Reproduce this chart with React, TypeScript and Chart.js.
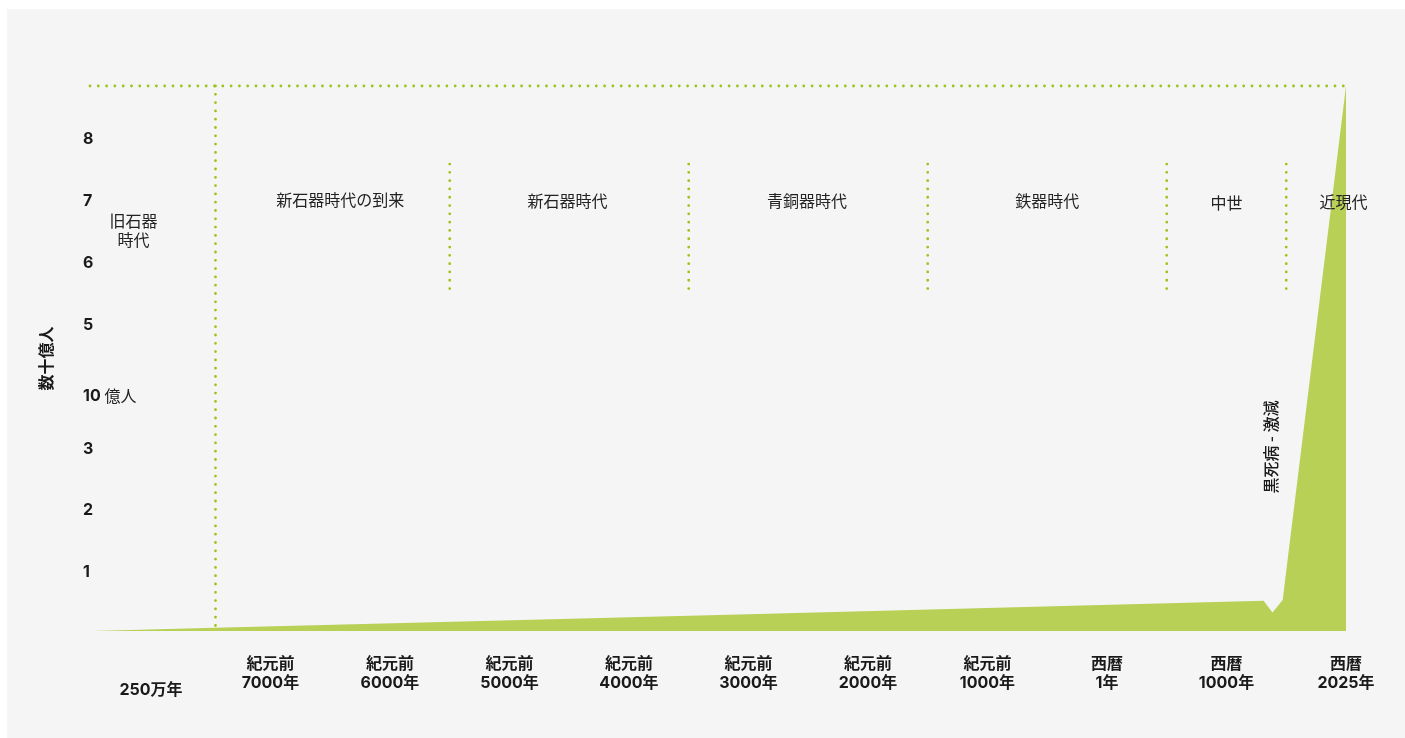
import React, { useEffect, useRef } from "react";
import { Chart, registerables } from "chart.js";

Chart.register(...registerables);

// ---- data ----
const xTickValues = [0, 1, 2, 3, 4, 5, 6, 7, 8, 9, 10];
const xTickLabels: (string | string[])[] = [
  "250万年",
  ["紀元前", "7000年"],
  ["紀元前", "6000年"],
  ["紀元前", "5000年"],
  ["紀元前", "4000年"],
  ["紀元前", "3000年"],
  ["紀元前", "2000年"],
  ["紀元前", "1000年"],
  ["西暦", "1年"],
  ["西暦", "1000年"],
  ["西暦", "2025年"],
];
const yTickValues = [1, 2, 3, 3.84, 5, 6, 7, 8];
const yTickLabels = ["1", "2", "3", "10", "5", "6", "7", "8"];
const yUnitNote = "億人";
const yUnitNoteValue = 3.84;
const yAxisTitle = "数十億人";

const popX = [-0.49, 0.54, 5, 9.31, 9.385, 9.47, 10];
const popY = [0, 0.053, 0.27, 0.49, 0.3, 0.5, 8.8];

const ceilingX = [-0.51, 10];
const ceilingY = [8.8, 8.8];

const eraBoundaryX = [0.54, 2.5, 4.5, 6.5, 8.5, 9.5];
const eraBoundaryTop = [8.8, 7.54, 7.54, 7.54, 7.54, 7.54];
const eraBoundaryBottom = [0.03, 5.42, 5.42, 5.42, 5.42, 5.42];

const eraNames = ["旧石器\n時代", "新石器時代の到来", "新石器時代", "青銅器時代", "鉄器時代", "中世", "近現代"];
const eraNameX = [-0.146, 1.585, 3.485, 5.49, 7.5, 9.0, 9.98];
const eraNameY = [6.46, 6.96, 6.94, 6.94, 6.94, 6.91, 6.93];

const eventLabel = "黒死病 - 激減";
const eventX = 9.37;
const eventY = 2.97;

// ---- styles ----
const FAMILY = "Inter, 'Noto Sans CJK JP', sans-serif";
const CJK = "'Noto Sans CJK JP', sans-serif";
const GREEN_FILL = "#b7d055";
const DOT_GREEN = "#9cc41a";
const TEXT = "#1a1a1a";

const textPlugin = {
  id: "textNotes",
  afterDatasetsDraw(chart: any) {
    const { ctx, scales } = chart;
    const xs = scales.x;
    const ys = scales.y;
    ctx.save();
    ctx.fillStyle = "#222";
    ctx.textAlign = "center";
    ctx.textBaseline = "middle";
    ctx.font = `16px ${CJK}`;
    eraNames.forEach((name, i) => {
      const lines = name.split("\n");
      const cx = xs.getPixelForValue(eraNameX[i]);
      const cy = ys.getPixelForValue(eraNameY[i]);
      const lh = 19;
      lines.forEach((ln, j) => {
        ctx.fillText(ln, cx, cy + (j - (lines.length - 1) / 2) * lh);
      });
    });
    // event label rotated
    ctx.save();
    ctx.translate(xs.getPixelForValue(eventX), ys.getPixelForValue(eventY));
    ctx.rotate(-Math.PI / 2);
    ctx.fillStyle = TEXT;
    ctx.font = `500 16px ${CJK}`;
    ctx.fillText(eventLabel, 0, 0);
    ctx.restore();
    // unit note after "10"
    ctx.font = `bold 16px ${FAMILY}`;
    const w = ctx.measureText("10 ").width;
    ctx.font = `16px ${CJK}`;
    ctx.textAlign = "left";
    ctx.fillStyle = "#222";
    ctx.fillText(yUnitNote, ys.right - 7 + w, ys.getPixelForValue(yUnitNoteValue) + 3);
    ctx.restore();
  },
};

export default function App() {
  const ref = useRef<HTMLCanvasElement | null>(null);
  useEffect(() => {
    if (!ref.current) return;
    const dotted = (data: { x: number; y: number }[]) => ({
      type: "line" as const,
      data,
      borderColor: DOT_GREEN,
      borderWidth: 2.8,
      borderDash: [0, 8.3],
      borderCapStyle: "round" as const,
      pointRadius: 0,
      fill: false,
      clip: false as any,
      tension: 0,
    });
    const datasets: any[] = [
      dotted(ceilingX.map((x, i) => ({ x, y: ceilingY[i] }))),
      ...eraBoundaryX.map((x, i) =>
        dotted([
          { x, y: eraBoundaryTop[i] },
          { x, y: eraBoundaryBottom[i] },
        ])
      ),
      {
        type: "line",
        data: popX.map((x, i) => ({ x, y: popY[i] })),
        backgroundColor: GREEN_FILL,
        borderColor: GREEN_FILL,
        borderWidth: 0,
        pointRadius: 0,
        fill: "origin",
        tension: 0,
      },
    ];
    const chart = new Chart(ref.current, {
      type: "line",
      data: { datasets },
      options: {
        animation: false,
        responsive: false,
        events: [],
        layout: { padding: { left: 0, top: 77, right: 59, bottom: 27 } },
        plugins: { legend: { display: false }, tooltip: { enabled: false } },
        scales: {
          x: {
            type: "linear",
            min: -0.51,
            max: 10,
            grid: { display: false, drawTicks: false },
            border: { display: false },
            afterBuildTicks: (scale: any) => {
              scale.ticks = xTickValues.map((v) => ({ value: v }));
            },
            afterFit: (scale: any) => {
              scale.height = 80;
            },
            ticks: {
              autoSkip: false,
              maxRotation: 0,
              minRotation: 0,
              padding: 23.5,
              color: TEXT,
              font: (ctx: any) => ({
                family: FAMILY,
                size: 16,
                weight: "bold",
                lineHeight: ctx.index === 0 ? "71px" : "19px",
              }),
              callback: (value: any) => {
                const i = xTickValues.indexOf(Number(value));
                return i >= 0 ? xTickLabels[i] : "";
              },
            },
          },
          y: {
            type: "linear",
            min: 0,
            max: 8.8,
            grid: { display: false, drawTicks: false },
            border: { display: false },
            afterBuildTicks: (scale: any) => {
              scale.ticks = yTickValues.map((v) => ({ value: v }));
            },
            afterFit: (scale: any) => {
              scale.width = 83;
            },
            title: {
              display: true,
              text: yAxisTitle,
              color: TEXT,
              font: { family: CJK, size: 16, weight: "bold" },
              padding: { top: 29, bottom: 0 },
            },
            ticks: {
              mirror: true,
              padding: -7,
              labelOffset: 3.5,
              color: TEXT,
              font: { family: FAMILY, size: 16, weight: "bold" },
              callback: (value: any) => {
                const i = yTickValues.indexOf(Number(value));
                return i >= 0 ? yTickLabels[i] : "";
              },
            },
          },
        },
      },
      plugins: [textPlugin],
    } as any);
    return () => chart.destroy();
  }, []);

  return (
    <div
      style={{
        position: "fixed",
        left: 7,
        top: 9,
        width: 1398,
        height: 729,
        background: "#f5f5f5",
      }}
    >
      <canvas ref={ref} width={1398} height={729} style={{ display: "block" }} />
    </div>
  );
}
